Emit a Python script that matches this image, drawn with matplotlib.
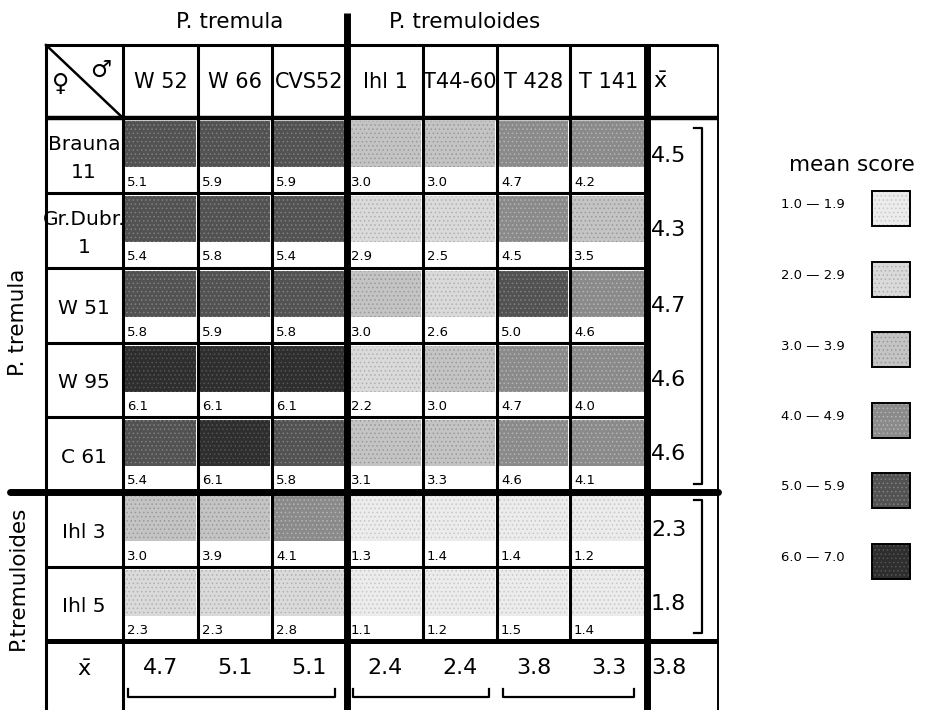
import numpy as np
import matplotlib.pyplot as plt
from matplotlib.patches import Rectangle

plt.rcParams['font.family'] = ['DejaVu Sans']
plt.rcParams['hatch.linewidth'] = 0.6

# данные: скрещивания (мать x отец), средний балл
fathers = ["W 52", "W 66", "CVS52", "Ihl 1", "T44-60", "T 428", "T 141"]
mothers = ["Brauna\n11", "Gr.Dubr.\n1", "W 51", "W 95", "C 61", "Ihl 3", "Ihl 5"]
scores = np.array([
    [5.1, 5.9, 5.9, 3.0, 3.0, 4.7, 4.2],
    [5.4, 5.8, 5.4, 2.9, 2.5, 4.5, 3.5],
    [5.8, 5.9, 5.8, 3.0, 2.6, 5.0, 4.6],
    [6.1, 6.1, 6.1, 2.2, 3.0, 4.7, 4.0],
    [5.4, 6.1, 5.8, 3.1, 3.3, 4.6, 4.1],
    [3.0, 3.9, 4.1, 1.3, 1.4, 1.4, 1.2],
    [2.3, 2.3, 2.8, 1.1, 1.2, 1.5, 1.4],
])
row_means = [4.5, 4.3, 4.7, 4.6, 4.6, 2.3, 1.8]
col_means = [4.7, 5.1, 5.1, 2.4, 2.4, 3.8, 3.3]
grand_mean = 3.8
class_labels = ["1.0 — 1.9", "2.0 — 2.9", "3.0 — 3.9", "4.0 — 4.9", "5.0 — 5.9", "6.0 — 7.0"]
class_bounds = [2.0, 3.0, 4.0, 5.0, 6.0]

# оформление
shade = ['#ececec', '#dadada', '#c4c4c4', '#8a8a8a', '#525252', '#2e2e2e']
dots = ['#c8c8c8', '#b0b0b0', '#999999', '#b4b4b4', '#808080', '#555555']
col_edges = [46, 123, 198, 272, 347, 423, 497, 570, 647, 718]
row_edges = [45, 118, 193, 268, 343, 417, 492, 567, 641, 710]

fig = plt.figure(figsize=(9.28, 7.10), dpi=100)
ax = fig.add_axes([0, 0, 1, 1])
ax.set_xlim(0, 928)
ax.set_ylim(710, 0)
ax.axis('off')

# ячейки
for i in range(len(mothers)):
    for j in range(len(fathers)):
        v = scores[i, j]
        k = int(np.digitize(v, class_bounds))
        x0, x1 = col_edges[j + 1], col_edges[j + 2]
        y0 = row_edges[i + 1]
        ax.add_patch(Rectangle((x0 + 2, y0 + 3), x1 - x0 - 4, 46,
                               facecolor=shade[k], edgecolor=dots[k],
                               hatch='....', lw=0))
        ax.text(x0 + 4, y0 + 64, f"{v:.1f}", fontsize=9.5, va='center', ha='left')

# заголовки столбцов и строк
for j, name in enumerate(fathers):
    xc = (col_edges[j + 1] + col_edges[j + 2]) / 2
    ax.text(xc, 82, name, fontsize=15, ha='center', va='center')
ax.text(660, 82, r'$\bar{\mathrm{x}}$', fontsize=16, ha='center', va='center')
for i, name in enumerate(mothers):
    yc = (row_edges[i + 1] + row_edges[i + 2]) / 2
    ax.text(84, yc + 3, name, fontsize=14.5, ha='center', va='center', linespacing=1.6)
ax.text(84, 670, r'$\bar{\mathrm{x}}$', fontsize=16, ha='center', va='center')

# угол: мать / отец
ax.plot([46, 123], [45, 118], lw=1.8, color='black')
ax.text(61, 84, "♀", fontsize=17, ha='center', va='center')
ax.text(101, 70, "♂", fontsize=17, ha='center', va='center')

# средние
for i, m in enumerate(row_means):
    yc = (row_edges[i + 1] + row_edges[i + 2]) / 2
    ax.text(651, yc, f"{m:.1f}", fontsize=16, ha='left', va='center')
for j, m in enumerate(col_means):
    xc = (col_edges[j + 1] + col_edges[j + 2]) / 2
    ax.text(xc, 668, f"{m:.1f}", fontsize=16, ha='center', va='center')
ax.text(651, 668, f"{grand_mean:.1f}", fontsize=16, ha='left', va='center')

# сетка
thin, thick = 2.2, 5.0
kw = dict(color='black', solid_capstyle='butt')
ax.plot([46, 718], [45, 45], lw=thin, **kw)
ax.plot([46, 46], [45, 710], lw=thin, **kw)
ax.plot([718, 718], [45, 710], lw=1.4, **kw)
ax.plot([46, 718], [118, 118], lw=3.2, **kw)
for y in row_edges[2:6] + [567]:
    ax.plot([46, 647], [y, y], lw=thin, **kw)
ax.plot([10, 718], [492, 492], lw=thick, color='black', solid_capstyle='round')
ax.plot([46, 718], [641, 641], lw=3.6, **kw)
ax.plot([123, 123], [45, 710], lw=thin, **kw)
for x in [198, 272, 423, 497, 570]:
    ax.plot([x, x], [45, 641], lw=thin, **kw)
ax.plot([347, 347], [13, 710], lw=thick, **kw)
ax.plot([647, 647], [45, 710], lw=thick, **kw)

# скобки групп
for xa, xb in [(128, 335), (353, 489), (503, 634)]:
    ax.plot([xa, xa, xb, xb], [689, 697, 697, 689], lw=1.6, color='black')
for ya, yb in [(128, 484), (500, 633)]:
    ax.plot([694, 702, 702, 694], [ya, ya, yb, yb], lw=1.6, color='black')

# подписи видов
ax.text(230, 22, "P. tremula", fontsize=15.5, ha='center', va='center')
ax.text(465, 22, "P. tremuloides", fontsize=15.5, ha='center', va='center')
ax.text(18, 322, "P. tremula", fontsize=15.5, ha='center', va='center', rotation=90)
ax.text(18, 578, "P.tremuloides", fontsize=15.5, ha='center', va='center', rotation=90)

# легенда
ax.text(852, 165, "mean score", fontsize=15.5, ha='center', va='center')
for k, lab in enumerate(class_labels):
    yc = 208 + k * 70.5
    ax.text(813, yc - 3, lab, fontsize=9.5, ha='center', va='center')
    ax.add_patch(Rectangle((872, yc - 17), 38, 35, facecolor=shade[k], edgecolor=dots[k],
                           hatch='....', lw=0))
    ax.add_patch(Rectangle((872, yc - 17), 38, 35, facecolor='none', edgecolor='black', lw=1.4))

fig.savefig('out.png', dpi=100)
